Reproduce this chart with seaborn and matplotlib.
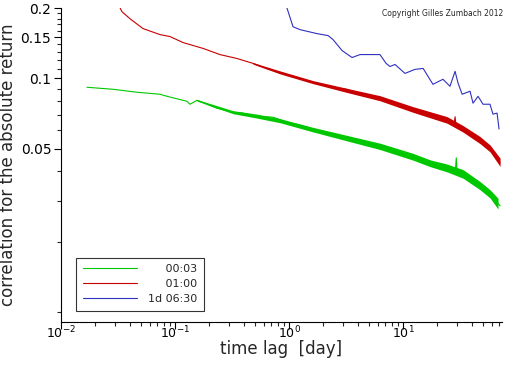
import matplotlib
matplotlib.use('Agg')
import matplotlib.pyplot as plt
import matplotlib.ticker as mticker
import seaborn as sns

# time lag [day] / correlation
green_x = [0.0169, 0.022, 0.0286, 0.0465, 0.0738, 0.0851, 0.127, 0.1355, 0.156, 0.233,
           0.323, 0.394, 0.524, 0.725, 0.959, 1.248, 1.625, 3.23, 6.28, 12.2, 17.3,
           24.3, 28.8, 29.3, 29.8, 33.6, 47.3, 57.9, 71.0]
green_y = [0.0916, 0.0907, 0.0898, 0.0872, 0.0855, 0.0838, 0.0798, 0.0775, 0.0806, 0.0745,
           0.0717, 0.0710, 0.0689, 0.0682, 0.0650, 0.0631, 0.0607, 0.0556, 0.0514, 0.0466, 0.0435,
           0.0414, 0.0404, 0.0457, 0.0401, 0.0390, 0.0347, 0.0321, 0.0285]

red_x = [0.0325, 0.0343, 0.0403, 0.0524, 0.0738, 0.0903, 0.1175, 0.1763, 0.248, 0.350,
         0.483, 0.641, 0.834, 1.248, 1.625, 2.43, 3.23, 4.83, 6.28, 10.8, 12.2, 24.3,
         28.2, 28.6, 29.0, 36.4, 47.3, 57.9, 71.0]
red_y = [0.2030, 0.1927, 0.1799, 0.1633, 0.1539, 0.1510, 0.1423, 0.1343, 0.1264, 0.1216,
         0.1159, 0.1103, 0.1061, 0.1000, 0.0962, 0.0916, 0.0897, 0.0838, 0.0822, 0.0745, 0.0738, 0.0670,
         0.0648, 0.0685, 0.0643, 0.0594, 0.0540, 0.0499, 0.0435]

blue_x = [0.95, 1.084, 1.248, 1.76, 2.20, 2.43, 2.92, 3.57, 4.20, 6.28, 7.10, 7.69, 8.51,
          10.4, 12.7, 15.0, 18.3, 22.4, 25.8, 28.6, 30.4, 33.0, 38.7, 41.1, 45.5, 50.3,
          57.9, 61.5, 66.8, 69.5]
blue_y = [0.2030, 0.1663, 0.1616, 0.1554, 0.1524, 0.1466, 0.1315, 0.1228, 0.1264, 0.1264,
          0.1159, 0.1124, 0.1147, 0.1050, 0.1092, 0.1103, 0.0943, 0.0991, 0.0925, 0.1072,
          0.0953, 0.0855, 0.0881, 0.0783, 0.0838, 0.0775, 0.0775, 0.0703, 0.0710, 0.0607]

# spread of the noisy part (lower / upper edge of the band)
green_band_x = [0.156, 0.323, 0.524, 0.834, 1.625, 3.23, 6.28, 12.2, 17.3, 24.3, 33.6, 47.3, 57.9, 68.1]
green_band_lo = [0.0800, 0.0706, 0.0676, 0.0646, 0.0590, 0.0540, 0.0496, 0.0447, 0.0419, 0.0398,
                 0.0374, 0.0334, 0.0308, 0.0276]
green_band_hi = [0.0812, 0.0727, 0.0703, 0.0672, 0.0617, 0.0570, 0.0528, 0.0478, 0.0448, 0.0430,
                 0.0407, 0.0362, 0.0334, 0.0307]

red_band_x = [0.483, 0.834, 1.625, 3.23, 6.28, 12.2, 17.3, 24.3, 33.6, 47.3, 57.9, 71.0]
red_band_lo = [0.1150, 0.1045, 0.0949, 0.0870, 0.0802, 0.0716, 0.0678, 0.0643, 0.0589, 0.0526, 0.0485, 0.0420]
red_band_hi = [0.1168, 0.1076, 0.0978, 0.0906, 0.0843, 0.0757, 0.0720, 0.0686, 0.0628, 0.0564, 0.0519, 0.0456]

labels = ['00:03', '01:00', '1d 06:30']
colors = ['#00c800', '#c80000', '#3030c0']

ytick_vals = [0.05, 0.1, 0.15, 0.2]
ytick_labels = ['0.05', '0.1', '0.15', '0.2']
yminor_vals = [0.01, 0.02, 0.03, 0.04, 0.06, 0.07, 0.08, 0.09,
               0.11, 0.12, 0.13, 0.14, 0.16, 0.17, 0.18, 0.19]

sns.set_style('ticks')
plt.rcParams['font.family'] = ['DejaVu Sans']

fig = plt.figure(figsize=(5.12, 3.66), dpi=100)
ax = fig.add_axes([61 / 512, 1 - 322 / 366, 441 / 512, 314 / 366])

ax.fill_between(green_band_x, green_band_lo, green_band_hi, color=colors[0], lw=0)
ax.fill_between(red_band_x, red_band_lo, red_band_hi, color=colors[1], lw=0)

# legend labels padded with spaces so that they line up on the right
width = max(len(l) for l in labels)
pad_labels = [' ' * (2 * (width - len(l)) - 1) + l if len(l) < width else l for l in labels]

sns.lineplot(x=green_x, y=green_y, ax=ax, color=colors[0], lw=0.8, sort=False, estimator=None, label=pad_labels[0])
sns.lineplot(x=red_x, y=red_y, ax=ax, color=colors[1], lw=0.8, sort=False, estimator=None, label=pad_labels[1])
sns.lineplot(x=blue_x, y=blue_y, ax=ax, color=colors[2], lw=0.8, sort=False, estimator=None, label=pad_labels[2])

ax.set_xscale('log')
ax.set_yscale('log')
ax.set_xlim(0.01, 73.8)
ax.set_ylim(0.00907, 0.2)

ax.yaxis.set_major_locator(mticker.FixedLocator(ytick_vals))
ax.yaxis.set_major_formatter(mticker.FixedFormatter(ytick_labels))
ax.yaxis.set_minor_locator(mticker.FixedLocator(yminor_vals))
ax.yaxis.set_minor_formatter(mticker.NullFormatter())
ax.xaxis.set_minor_formatter(mticker.NullFormatter())

ax.tick_params(which='major', length=5, width=0.8, pad=2, labelsize=10, colors='black')
ax.tick_params(which='minor', length=3, width=0.8)
ax.tick_params(axis='x', which='major', pad=-3, labelsize=9)
for s in ['top', 'right']:
    ax.spines[s].set_visible(False)
for s in ['left', 'bottom']:
    ax.spines[s].set_linewidth(0.8)
    ax.spines[s].set_color('black')

ax.set_xlabel('time lag  [day]', fontsize=12)
ax.set_ylabel('correlation for the absolute return', fontsize=12)
ax.xaxis.set_label_coords(0.5, -0.058)
ax.yaxis.set_label_coords(-0.099, 0.5)

leg = ax.legend(loc='lower left', bbox_to_anchor=(0.034, 0.035), borderaxespad=0,
                fontsize=8, handlelength=4.9, handletextpad=1.0, labelspacing=0.45,
                borderpad=0.6, fancybox=False, frameon=True)
leg.get_frame().set_edgecolor('black')
leg.get_frame().set_linewidth(0.8)
for h in leg.get_lines():
    h.set_linewidth(0.8)

fig.text(503 / 512, 1 - 13 / 366, 'Copyright Gilles Zumbach 2012', fontsize=5.5,
         ha='right', va='center')

plt.savefig('out.png', dpi=100)
plt.close()
